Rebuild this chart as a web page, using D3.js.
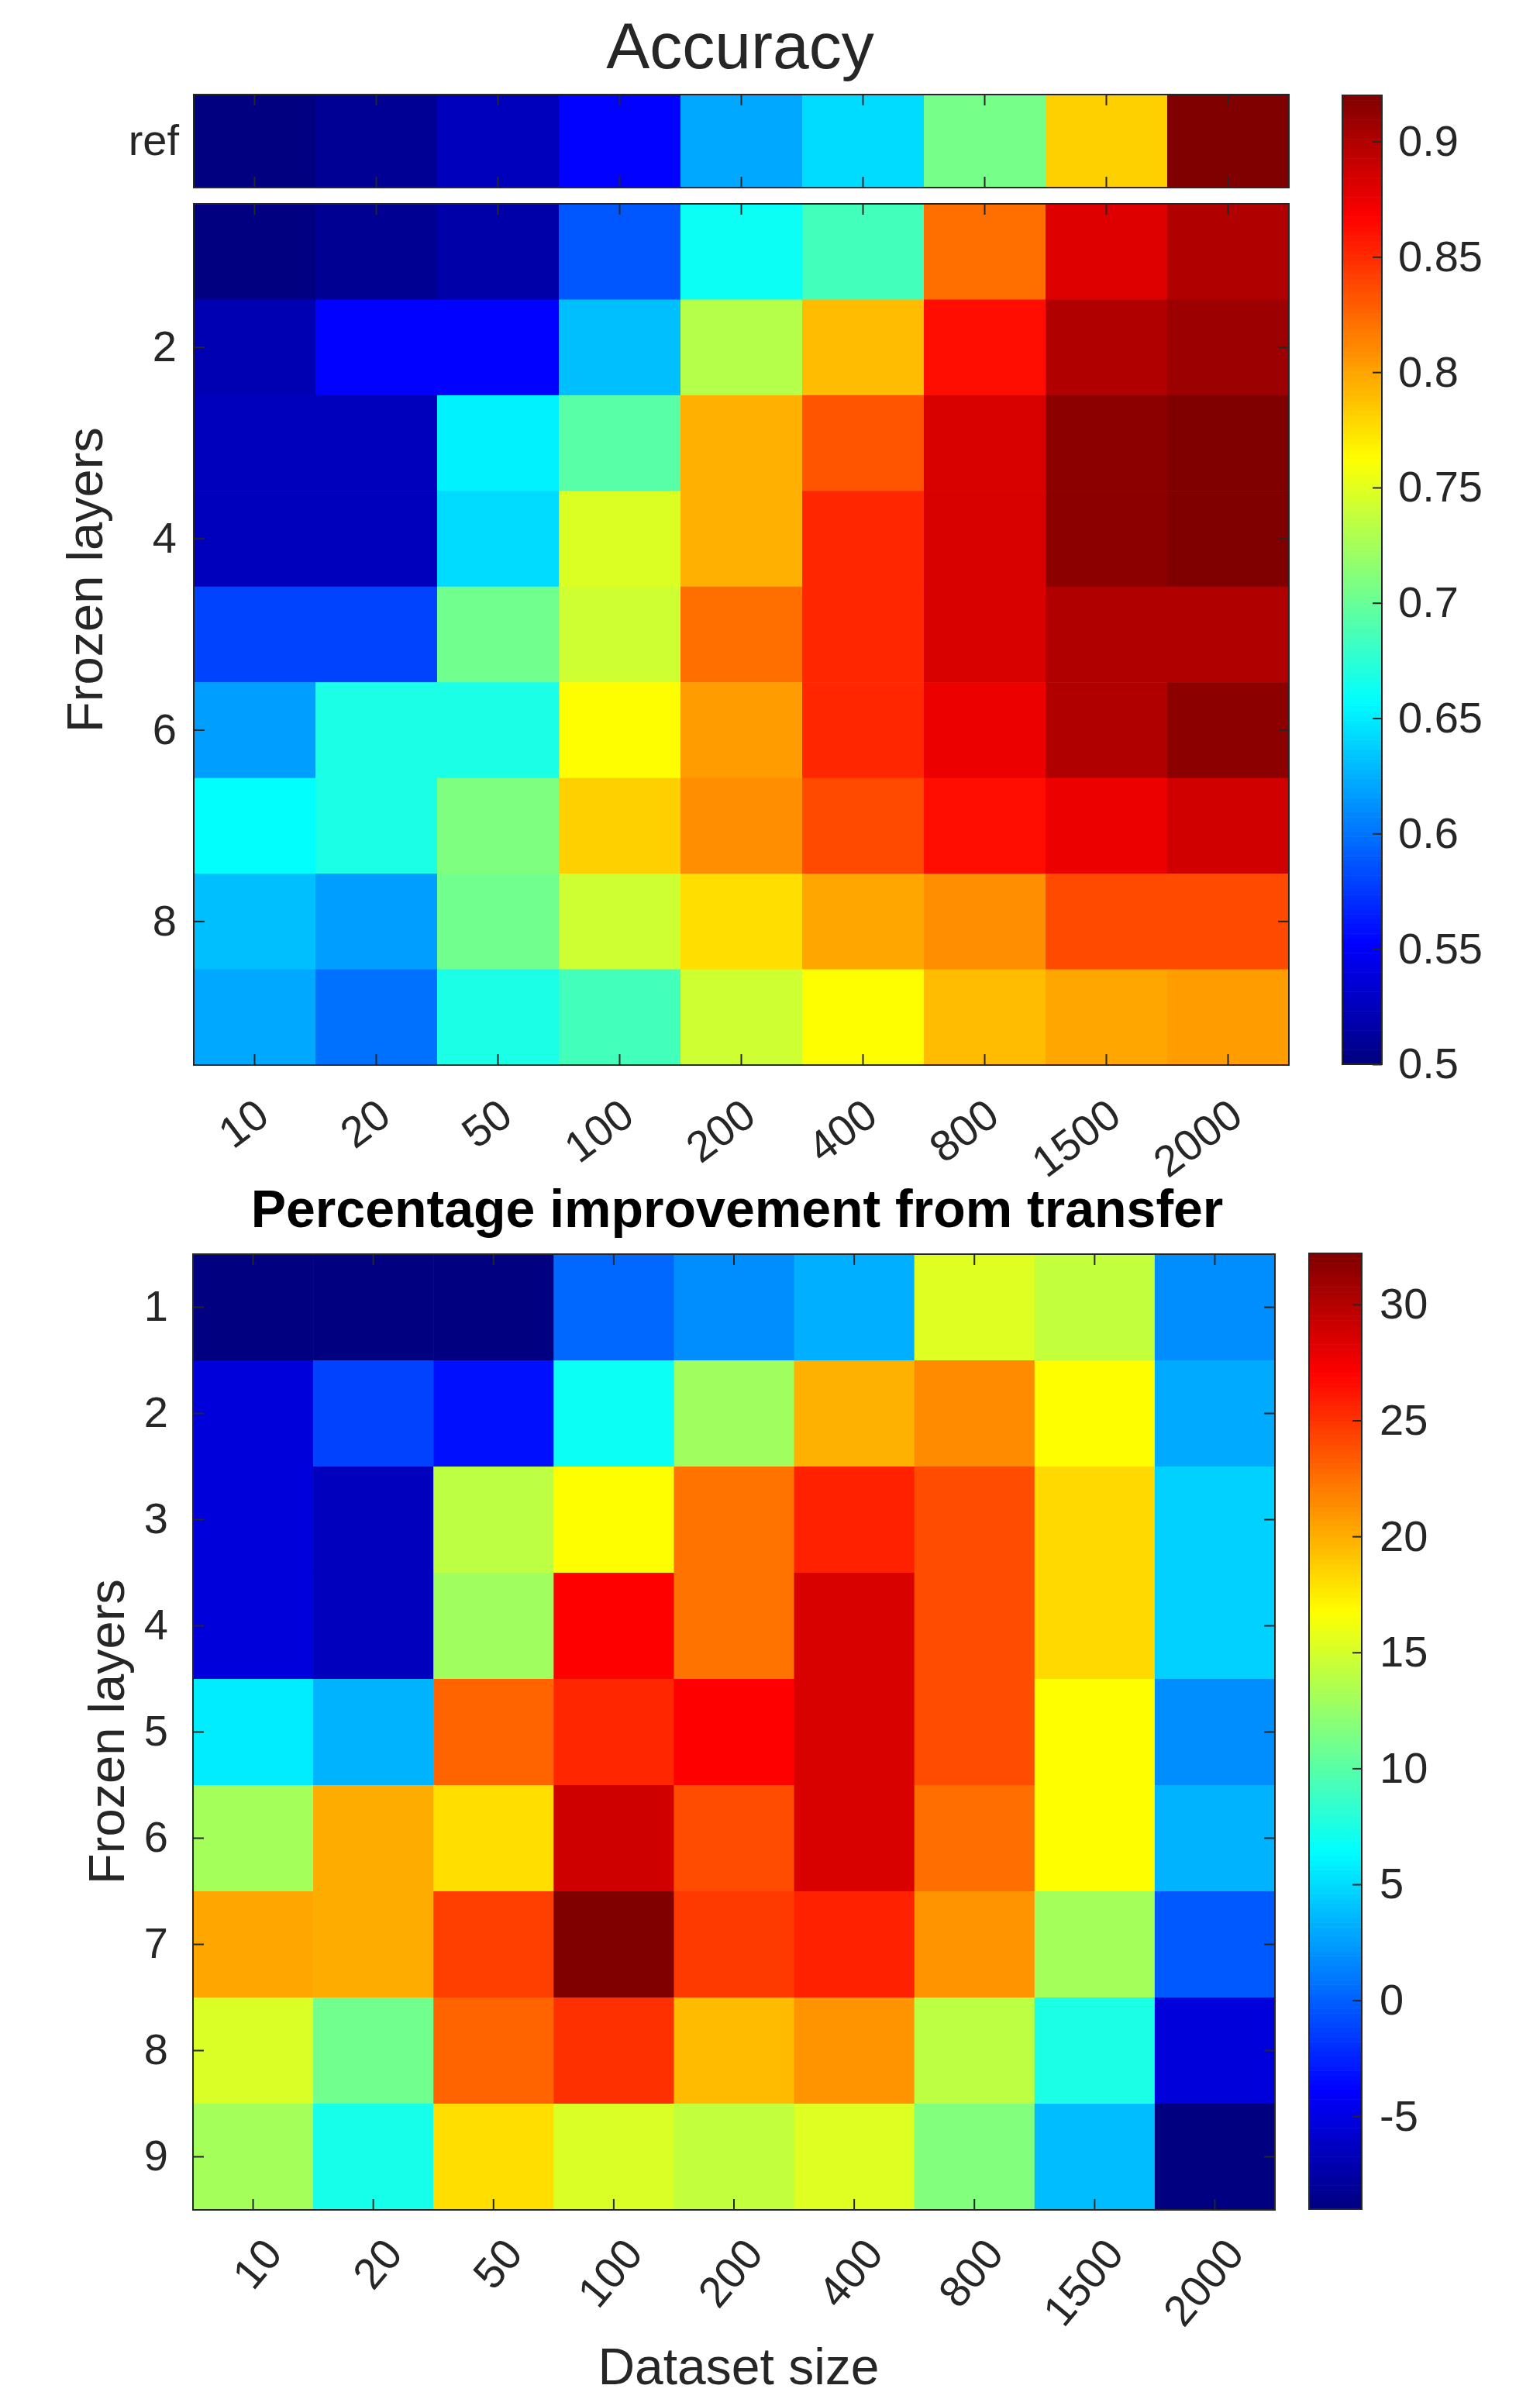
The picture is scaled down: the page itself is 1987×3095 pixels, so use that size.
<!DOCTYPE html>
<html>
<head>
<meta charset="utf-8">
<title>Accuracy and improvement from transfer</title>
<script src="https://d3js.org/d3.v7.min.js"></script>
<style>
  body { margin: 0; background: #fff; }
  text { font-family: "Liberation Sans", Arial, Helvetica, sans-serif; fill: #262626; }
</style>
</head>
<body>
<svg id="chart" width="1987" height="3095"></svg>
<script>
// dataset sizes (columns) and number of frozen layers (rows)
var sizes = ["10", "20", "50", "100", "200", "400", "800", "1500", "2000"];
var layers = [1, 2, 3, 4, 5, 6, 7, 8, 9];

// accuracy of the reference model (no transfer)
var refAccuracy = [0.500, 0.509, 0.525, 0.553, 0.622, 0.643, 0.706, 0.782, 0.920];

// accuracy, one row per frozen layer count
var accuracy = [
  [0.500, 0.508, 0.517, 0.588, 0.662, 0.685, 0.822, 0.881, 0.900],
  [0.521, 0.553, 0.553, 0.631, 0.732, 0.790, 0.862, 0.900, 0.908],
  [0.525, 0.525, 0.652, 0.694, 0.795, 0.833, 0.883, 0.915, 0.920],
  [0.525, 0.525, 0.643, 0.748, 0.795, 0.852, 0.883, 0.915, 0.920],
  [0.580, 0.580, 0.704, 0.742, 0.822, 0.852, 0.883, 0.900, 0.900],
  [0.618, 0.668, 0.668, 0.763, 0.803, 0.852, 0.875, 0.900, 0.915],
  [0.658, 0.668, 0.710, 0.782, 0.809, 0.837, 0.862, 0.875, 0.887],
  [0.631, 0.618, 0.704, 0.742, 0.776, 0.799, 0.809, 0.837, 0.837],
  [0.622, 0.599, 0.668, 0.685, 0.742, 0.763, 0.790, 0.799, 0.803]
];

// percentage improvement from transfer
var improvement = [
  [-9.0, -9.0, -9.0, 0.3, 1.9, 3.2, 15.4, 14.3, 1.9],
  [-5.3, -1.2, -3.2, 6.9, 12.9, 19.9, 21.4, 16.8, 3.0],
  [-5.3, -6.5, 14.1, 16.8, 22.4, 25.7, 24.0, 18.3, 4.6],
  [-5.3, -6.5, 12.9, 27.1, 22.4, 28.6, 24.0, 18.3, 4.6],
  [5.7, 3.4, 23.0, 25.5, 27.1, 28.6, 24.0, 16.8, 1.9],
  [13.1, 20.1, 18.1, 29.0, 24.0, 28.6, 22.6, 16.8, 3.4],
  [20.3, 20.1, 24.5, 32.2, 24.7, 25.7, 21.1, 13.1, -0.3],
  [15.2, 11.0, 23.0, 25.1, 19.5, 21.1, 14.1, 7.5, -5.3],
  [13.1, 7.3, 18.1, 15.2, 14.3, 15.4, 11.7, 3.8, -9.0]
];

var accTicks = [0.5, 0.55, 0.6, 0.65, 0.7, 0.75, 0.8, 0.85, 0.9];
var impTicks = [-5, 0, 5, 10, 15, 20, 25, 30];
var accLayerTicks = [2, 4, 6, 8];
var accRange = [0.5, 0.92];
var impRange = [-9, 32.2];

var ink = "#262626";
var tickFont = 56;

// matlab style jet colormap
function jet(t) {
  t = Math.max(0, Math.min(1, t));
  function c(v) { return Math.max(0, Math.min(1, v)) * 255; }
  var r = c(Math.min(4 * t - 1.5, -4 * t + 4.5));
  var g = c(Math.min(4 * t - 0.5, -4 * t + 3.5));
  var b = c(Math.min(4 * t + 0.5, -4 * t + 2.5));
  return d3.rgb(r, g, b).toString();
}

var svg = d3.select("#chart");

function cellsOf(rows) {
  var out = [];
  rows.forEach(function(row, r) {
    row.forEach(function(v, c) {
      out.push({ layer: layers[r], size: sizes[c], value: v });
    });
  });
  return out;
}

function frame(x0, y0, x1, y1) {
  svg.append("rect")
    .attr("x", x0).attr("y", y0)
    .attr("width", x1 - x0).attr("height", y1 - y0)
    .attr("fill", "none").attr("stroke", ink).attr("stroke-width", 2);
}

function styleAxis(g, size) {
  g.attr("color", ink).attr("font-size", size);
  g.select(".domain").remove();
  g.selectAll(".tick line").attr("stroke-width", 2);
}

function colorbar(x0, x1, scale, color, ticks, pad) {
  var d = scale.domain();
  var n = 200, step = (d[1] - d[0]) / n;
  var vals = d3.range(n).map(function(i) { return d[0] + i * step; });
  svg.append("g").selectAll("rect").data(vals).join("rect")
    .attr("x", x0)
    .attr("y", function(v) { return scale(v + step); })
    .attr("width", x1 - x0)
    .attr("height", function(v) { return scale(v) - scale(v + step) + 0.6; })
    .attr("fill", function(v) { return color(v + step / 2); });
  frame(x0, scale.range()[1], x1, scale.range()[0]);
  var ax = svg.append("g")
    .attr("transform", "translate(" + x1 + ",0)")
    .call(d3.axisRight(scale).tickValues(ticks).tickSize(-12).tickPadding(pad)
      .tickFormat(function(v) { return String(v); }));
  styleAxis(ax, tickFont);
}

// ---------------- top panel: accuracy ----------------
var xTop = d3.scaleBand().domain(sizes).range([250, 1663]);
var yRef = d3.scaleBand().domain(["ref"]).range([122, 242]);
var yTop = d3.scaleBand().domain(layers).range([263, 1374]);
var accColor = d3.scaleSequential(jet).domain(accRange).clamp(true);

svg.append("text")
  .attr("x", 955).attr("y", 88)
  .attr("text-anchor", "middle")
  .attr("font-size", 84)
  .text("Accuracy");

svg.append("g").selectAll("rect").data(refAccuracy).join("rect")
  .attr("x", function(d, i) { return xTop(sizes[i]); })
  .attr("y", yRef("ref"))
  .attr("width", xTop.bandwidth() + 0.6)
  .attr("height", yRef.bandwidth())
  .attr("fill", function(d) { return accColor(d); });

svg.append("g").selectAll("rect").data(cellsOf(accuracy)).join("rect")
  .attr("x", function(d) { return xTop(d.size); })
  .attr("y", function(d) { return yTop(d.layer); })
  .attr("width", xTop.bandwidth() + 0.6)
  .attr("height", yTop.bandwidth() + 0.6)
  .attr("fill", function(d) { return accColor(d.value); });

frame(250, 122, 1663, 242);
frame(250, 263, 1663, 1374);

[122, 263].forEach(function(y) {
  styleAxis(svg.append("g").attr("transform", "translate(0," + y + ")")
    .call(d3.axisTop(xTop).tickSize(-14).tickFormat("")), tickFont);
});
styleAxis(svg.append("g").attr("transform", "translate(0,242)")
  .call(d3.axisBottom(xTop).tickSize(-14).tickFormat("")), tickFont);

var refAx = svg.append("g").attr("transform", "translate(250,0)")
  .call(d3.axisLeft(yRef).tickSize(0).tickPadding(19));
styleAxis(refAx, tickFont);

var xTopAx = svg.append("g").attr("transform", "translate(0,1374)")
  .call(d3.axisBottom(xTop).tickSize(-14));
styleAxis(xTopAx, tickFont);
xTopAx.selectAll(".tick text")
  .attr("y", null).attr("dy", null)
  .attr("text-anchor", "end")
  .attr("transform", "translate(22,72) rotate(-37)");

var yTopAx = svg.append("g").attr("transform", "translate(250,0)")
  .call(d3.axisLeft(yTop).tickValues(accLayerTicks).tickSize(-14).tickPadding(22));
styleAxis(yTopAx, tickFont);
styleAxis(svg.append("g").attr("transform", "translate(1663,0)")
  .call(d3.axisRight(yTop).tickValues(accLayerTicks).tickSize(-14).tickFormat("")), tickFont);

svg.append("text")
  .attr("transform", "translate(132,748) rotate(-90)")
  .attr("text-anchor", "middle")
  .attr("font-size", 65)
  .text("Frozen layers");

var accBar = d3.scaleLinear().domain(accRange).range([1373, 123]);
colorbar(1732, 1783, accBar, accColor, accTicks, 21);

// ---------------- bottom panel: improvement ----------------
var xBot = d3.scaleBand().domain(sizes).range([249, 1645]);
var yBot = d3.scaleBand().domain(layers).range([1618, 2851]);
var impColor = d3.scaleSequential(jet).domain(impRange).clamp(true);

svg.append("text")
  .attr("x", 951).attr("y", 1583)
  .attr("text-anchor", "middle")
  .attr("font-size", 68)
  .attr("font-weight", "bold")
  .style("fill", "#000")
  .text("Percentage improvement from transfer");

svg.append("g").selectAll("rect").data(cellsOf(improvement)).join("rect")
  .attr("x", function(d) { return xBot(d.size); })
  .attr("y", function(d) { return yBot(d.layer); })
  .attr("width", xBot.bandwidth() + 0.6)
  .attr("height", yBot.bandwidth() + 0.6)
  .attr("fill", function(d) { return impColor(d.value); });

frame(249, 1618, 1645, 2851);

styleAxis(svg.append("g").attr("transform", "translate(0,1618)")
  .call(d3.axisTop(xBot).tickSize(-14).tickFormat("")), tickFont);

var xBotAx = svg.append("g").attr("transform", "translate(0,2851)")
  .call(d3.axisBottom(xBot).tickSize(-14));
styleAxis(xBotAx, tickFont);
xBotAx.selectAll(".tick text")
  .attr("y", null).attr("dy", null)
  .attr("text-anchor", "end")
  .attr("transform", "translate(40,58) rotate(-50)");

var yBotAx = svg.append("g").attr("transform", "translate(249,0)")
  .call(d3.axisLeft(yBot).tickSize(-14).tickPadding(32));
styleAxis(yBotAx, tickFont);
styleAxis(svg.append("g").attr("transform", "translate(1645,0)")
  .call(d3.axisRight(yBot).tickSize(-14).tickFormat("")), tickFont);

svg.append("text")
  .attr("transform", "translate(160,2234) rotate(-90)")
  .attr("text-anchor", "middle")
  .attr("font-size", 65)
  .text("Frozen layers");

svg.append("text")
  .attr("x", 953).attr("y", 3076)
  .attr("text-anchor", "middle")
  .attr("font-size", 66)
  .text("Dataset size");

var impBar = d3.scaleLinear().domain(impRange).range([2850, 1617]);
colorbar(1689, 1757, impBar, impColor, impTicks, 23);
</script>
</body>
</html>
